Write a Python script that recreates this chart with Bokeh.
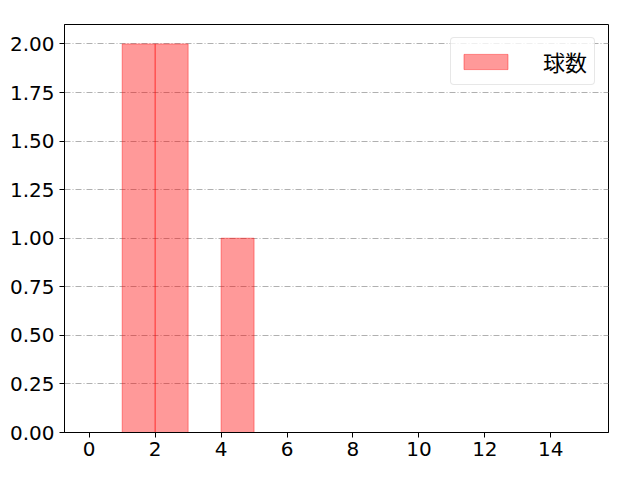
from bokeh.plotting import figure
from bokeh.models import FixedTicker, PrintfTickFormatter, Range1d, Legend, LegendItem
from bokeh.embed import file_html
from bokeh.resources import INLINE

bin_left = [0, 1, 2, 3, 4, 5, 6, 7, 8, 9, 10, 11, 12, 13, 14]
bin_right = [1, 2, 3, 4, 5, 6, 7, 8, 9, 10, 11, 12, 13, 14, 15]
counts = [0, 2, 2, 0, 1, 0, 0, 0, 0, 0, 0, 0, 0, 0, 0]
x_ticks = [0, 2, 4, 6, 8, 10, 12, 14]
y_ticks = [0, 0.25, 0.5, 0.75, 1.0, 1.25, 1.5, 1.75, 2.0]
series_name = "球数"

TICK_FONT = "DejaVu Sans"
CJK_FONT = "Noto Sans CJK JP"

p = figure(width=632, height=472, output_backend="svg", toolbar_location=None,
           x_range=Range1d(-0.75, 15.75), y_range=Range1d(0, 2.1),
           min_border_left=64, min_border_top=24, min_border_right=24, min_border_bottom=40)
p.frame_width = 544
p.frame_height = 408

r = p.quad(left=bin_left, right=bin_right, bottom=[0] * len(counts), top=counts,
           fill_color="red", fill_alpha=0.4, line_color="red", line_alpha=0.4, line_width=1)

p.xgrid.visible = False
p.ygrid.grid_line_color = "#b0b0b0"
p.ygrid.grid_line_dash = "6 2 1 2"
p.ygrid.grid_line_width = 1
p.ygrid.ticker = FixedTicker(ticks=y_ticks)

p.outline_line_color = "black"
p.outline_line_width = 1
p.outline_line_alpha = 1

for ax in (p.xaxis[0], p.yaxis[0]):
    ax.axis_line_color = "black"
    ax.axis_line_width = 1
    ax.major_tick_line_color = "black"
    ax.major_tick_out = 5
    ax.major_tick_in = 0
    ax.minor_tick_out = 0
    ax.minor_tick_in = 0
    ax.major_label_text_font = TICK_FONT
    ax.major_label_text_font_size = "20px"
    ax.major_label_text_color = "black"

p.xaxis.ticker = FixedTicker(ticks=x_ticks)
p.yaxis.ticker = FixedTicker(ticks=y_ticks)
p.yaxis.formatter = PrintfTickFormatter(format="%.2f")
p.xaxis.major_label_standoff = 4
p.yaxis.major_label_standoff = 5

legend = Legend(items=[LegendItem(label=series_name, renderers=[r])], location="top_right")
legend.label_text_font = CJK_FONT
legend.label_text_font_size = "22px"
legend.label_text_color = "black"
legend.glyph_width = 55
legend.glyph_height = 19
legend.label_standoff = 30
legend.padding = 7
legend.spacing = 0
legend.margin = 13
legend.border_line_color = "#d0d0d0"
legend.border_line_width = 1
legend.border_radius = 4
legend.background_fill_alpha = 0.8
p.add_layout(legend)

open("out.html", "w").write(file_html(p, INLINE))
